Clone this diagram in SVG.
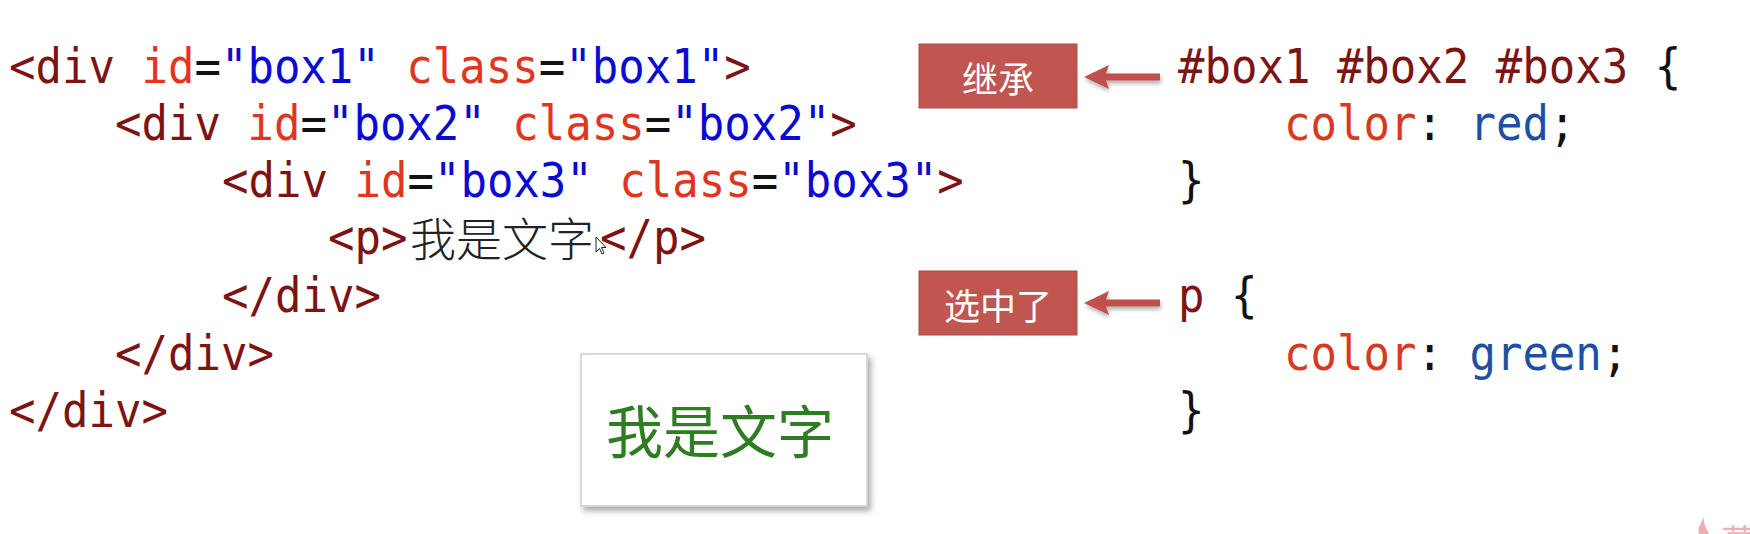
<svg xmlns="http://www.w3.org/2000/svg" width="1750" height="534" viewBox="0 0 1750 534">
<style>
.code{font-family:"DejaVu Sans Mono","Liberation Mono",monospace;font-size:44px;white-space:pre}
.tag{fill:#7d1414}
.attr{fill:#e0361f}
.val{fill:#0a0ad0}
.pun{fill:#111}
.prop{fill:#d93a1f}
.cval{fill:#1f4fa3}
.lbl{font-family:"Noto Sans CJK SC","Noto Sans",sans-serif;font-size:36px;fill:#ffffff;text-anchor:middle;dominant-baseline:central}
.lblbox{fill:#c0564f;stroke:#b04a44;stroke-width:1}
.cjk{font-family:"Noto Sans CJK SC",sans-serif}
</style>
<defs>
<filter id="sh" x="-20%" y="-20%" width="150%" height="160%">
<feDropShadow dx="3" dy="4" stdDeviation="3" flood-color="#000" flood-opacity="0.35"/>
</filter>
<filter id="ash" x="-20%" y="-50%" width="140%" height="200%">
<feDropShadow dx="1" dy="3" stdDeviation="2" flood-color="#000" flood-opacity="0.3"/>
</filter>
<path id="arrow" d="M0 0 L25 -12 L22 -3.5 L76 -3.5 L76 3.5 L22 3.5 L25 12 Z" fill="#c0504d"/>
</defs>
<rect width="1750" height="534" fill="#ffffff"/>

<g id="html-code" class="code" transform="scale(1,1.08)">
<text x="9" y="76.85" xml:space="preserve"><tspan class="tag">&lt;div</tspan> <tspan class="attr">id</tspan><tspan class="pun">=</tspan><tspan class="val">"box1"</tspan> <tspan class="attr">class</tspan><tspan class="pun">=</tspan><tspan class="val">"box1"</tspan><tspan class="tag">&gt;</tspan></text>
<text x="115" y="129.63" xml:space="preserve"><tspan class="tag">&lt;div</tspan> <tspan class="attr">id</tspan><tspan class="pun">=</tspan><tspan class="val">"box2"</tspan> <tspan class="attr">class</tspan><tspan class="pun">=</tspan><tspan class="val">"box2"</tspan><tspan class="tag">&gt;</tspan></text>
<text x="222" y="182.41" xml:space="preserve"><tspan class="tag">&lt;div</tspan> <tspan class="attr">id</tspan><tspan class="pun">=</tspan><tspan class="val">"box3"</tspan> <tspan class="attr">class</tspan><tspan class="pun">=</tspan><tspan class="val">"box3"</tspan><tspan class="tag">&gt;</tspan></text>
<text x="328" y="235.19" class="tag">&lt;p&gt;</text>
<text x="600" y="235.19" class="tag">&lt;/p&gt;</text>
<text x="222" y="288.89" class="tag">&lt;/div&gt;</text>
<text x="115" y="342.59" class="tag">&lt;/div&gt;</text>
<text x="9" y="395.37" class="tag">&lt;/div&gt;</text>
</g>
<g id="p-content">
<text x="410" y="256" class="cjk" style="font-size:46px;fill:#222;font-weight:300">我是文字</text>
</g>

<g id="cursor">
<path d="M596 237 L596 252 L599.5 248.5 L602 254 L604 253 L601.5 247.5 L606 247.5 Z" fill="#fff" stroke="#222" stroke-width="1"/>
</g>

<g id="css-code" class="code" transform="scale(1,1.08)">
<text x="1178" y="76.85" xml:space="preserve"><tspan class="tag">#box1 #box2 #box3</tspan> <tspan class="pun">{</tspan></text>
<text x="1284" y="129.63" xml:space="preserve"><tspan class="prop">color</tspan><tspan class="pun">:</tspan> <tspan class="cval">red</tspan><tspan class="pun">;</tspan></text>
<text x="1178" y="182.41" class="pun">}</text>
<text x="1178" y="288.89" xml:space="preserve"><tspan class="tag">p</tspan> <tspan class="pun">{</tspan></text>
<text x="1284" y="342.59" xml:space="preserve"><tspan class="prop">color</tspan><tspan class="pun">:</tspan> <tspan class="cval">green</tspan><tspan class="pun">;</tspan></text>
<text x="1178" y="395.37" class="pun">}</text>
</g>

<g id="label-inherit">
<rect class="lblbox" x="919" y="44" width="158" height="64"/>
<text class="lbl" x="998" y="77">继承</text>
</g>

<g id="label-selected">
<rect class="lblbox" x="919" y="271" width="158" height="64"/>
<text class="lbl" x="998" y="304">选中了</text>
</g>

<g id="connectors">
<use href="#arrow" x="1084" y="77" filter="url(#ash)"/>
<use href="#arrow" x="1084" y="303" filter="url(#ash)"/>
</g>

<g id="result-box">
<rect x="581" y="354" width="286" height="152" fill="#ffffff" stroke="#cfcfcf" stroke-width="1.5" filter="url(#sh)"/>
<text x="720" y="428" class="cjk" style="font-size:57px;fill:#2e7d22;text-anchor:middle;dominant-baseline:central">我是文字</text>
</g>

<g id="watermark" opacity="0.55">
<path d="M1704 517 C1700 524 1697 529 1699 534 L1709 534 C1707 529 1703 524 1704 517 Z" fill="#d9707c"/>
<text x="1721" y="556" class="cjk" style="font-size:36px;fill:#d9707c">慕</text>
</g>
</svg>
